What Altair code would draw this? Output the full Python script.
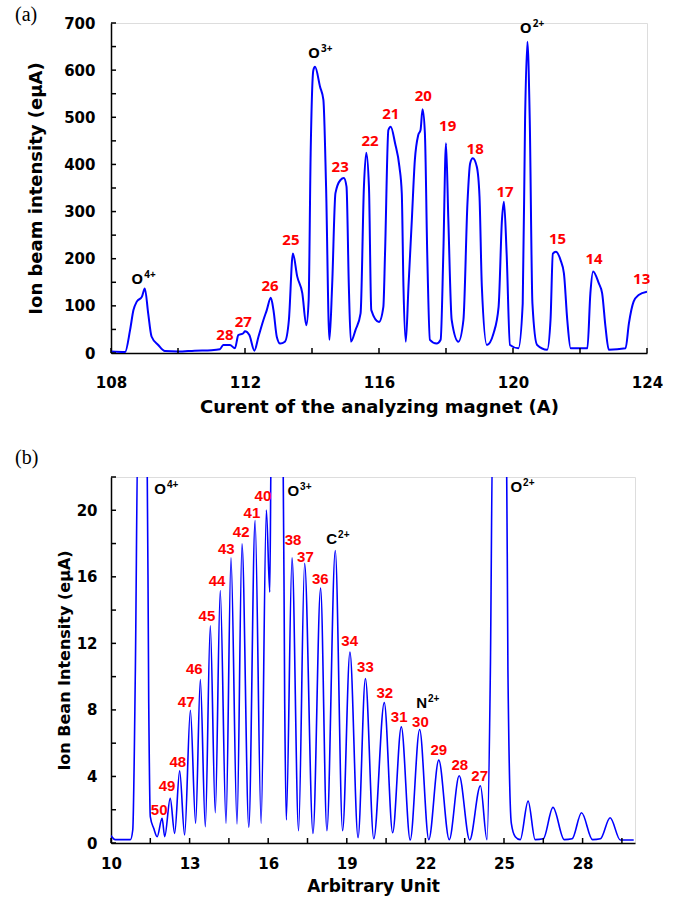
import altair as alt
import pandas as pd

# ---------------- Panel (a) data ----------------
a_x = [108.00, 108.42, 108.57, 108.67, 108.77, 108.92, 109.01, 109.11, 109.21, 109.41, 109.61,
       110.00, 110.50, 111.00, 111.25, 111.35, 111.55, 111.70, 111.80, 111.95, 112.00, 112.13,
       112.28, 112.40, 112.55, 112.65, 112.77, 112.85, 112.95, 113.05, 113.19, 113.31, 113.43,
       113.56, 113.71, 113.83, 113.90, 113.96, 114.04, 114.09, 114.24, 114.34, 114.42, 114.52,
       114.60, 114.70, 114.85, 114.95, 115.03, 115.10, 115.16, 115.30, 115.45, 115.55, 115.62,
       115.70, 115.77, 116.00, 116.13, 116.18, 116.28, 116.35, 116.48, 116.61, 116.68, 116.73,
       116.80, 116.88, 116.98, 117.07, 117.17, 117.24, 117.30, 117.37, 117.44, 117.52, 117.72,
       117.84, 117.92, 118.00, 118.07, 118.17, 118.37, 118.52, 118.64, 118.72, 118.80, 118.92,
       119.00, 119.07, 119.22, 119.42, 119.57, 119.67, 119.73, 119.81, 119.91, 120.16, 120.29,
       120.36, 120.43, 120.50, 120.58, 120.72, 121.02, 121.12, 121.19, 121.28, 121.42, 121.52,
       121.62, 121.72, 122.22, 122.31, 122.39, 122.56, 122.66, 122.76, 122.86, 123.36, 123.46,
       123.60, 123.75, 124.00]
a_y = [3, 2, 49, 91, 109, 119, 137, 84, 35, 17, 4,
       3, 5, 6, 8, 17, 17, 10, 38, 42, 46, 38,
       5, 34, 70, 91, 117, 91, 34, 20, 24, 70, 211,
       162, 127, 59, 112, 424, 600, 607, 565, 537, 353, 28,
       141, 339, 367, 371, 353, 141, 24, 49, 84, 353, 425,
       353, 91, 66, 98, 211, 473, 480, 445, 395, 339, 141,
       24, 141, 282, 409, 462, 473, 517, 466, 211, 28, 20,
       28, 211, 445, 282, 70, 24, 70, 317, 402, 413, 395,
       332, 141, 17, 42, 98, 282, 321, 211, 17, 10, 105,
       494, 660, 494, 105, 17, 7, 70, 211, 215, 197, 169,
       70, 10, 10, 127, 173, 148, 127, 56, 7, 10, 63,
       109, 123, 130]

a_lab_text = ["28", "27", "26", "25", "23", "22", "21", "20", "19", "18", "17", "15", "14", "13"]
a_lab_x = [111.40, 111.95, 112.75, 113.37, 114.84, 115.73, 116.35, 117.32, 118.05, 118.87, 119.76,
           121.33, 122.42, 123.84]
a_lab_y = [38, 65, 142, 240, 395, 450, 508, 545, 481, 432, 342, 242, 199, 156]

a_ion_main = ["O", "O", "O"]
a_ion_sup = ["4+", "3+", "2+"]
a_ion_x = [108.96, 114.24, 120.56]
a_ion_y = [158, 636, 689]

a_xlabels = [108, 112, 116, 120, 124]
a_xticks = [108, 110, 112, 114, 116, 118, 120, 122, 124]
a_ylabels = [0, 100, 200, 300, 400, 500, 600, 700]
a_yticks = [0, 50, 100, 150, 200, 250, 300, 350, 400, 450, 500, 550, 600, 650, 700]

# ---------------- Panel (b) data ----------------
b_x = [10.00, 10.16, 10.74, 10.83, 10.93, 11.03, 11.37, 11.44, 11.50, 11.63, 11.76, 11.95, 12.05,
       12.26, 12.43, 12.62, 12.81, 13.03, 13.23, 13.41, 13.60, 13.79, 13.98, 14.17, 14.39, 14.58,
       14.81, 15.00, 15.26, 15.50, 15.73, 15.93, 16.06, 16.12, 16.56, 16.63, 16.69, 16.91, 17.16,
       17.39, 17.71, 18.00, 18.24, 18.56, 18.84, 19.12, 19.43, 19.71, 20.03, 20.43, 20.75, 21.08,
       21.42, 21.78, 22.13, 22.51, 22.91, 23.29, 23.69, 24.10, 24.35, 24.48, 24.57, 25.09, 25.15,
       25.28, 25.43, 25.62, 25.92, 26.19, 26.50, 26.87, 27.30, 27.60, 27.96, 28.38, 28.68, 29.05,
       29.44, 29.95]
b_y = [0.45, 0.20, 0.20, 0.78, 10.4, 25.0, 25.0, 8.4, 1.58, 0.88, 0.38, 1.48, 0.38,
       2.68, 0.58, 4.34, 0.48, 7.98, 1.18, 9.82, 0.98, 13.06, 1.82, 15.18, 1.18, 17.14,
       1.14, 17.98, 0.94, 19.38, 1.18, 20.02, 15.08, 25.0, 25.0, 8.4, 1.38, 17.14, 0.74,
       16.82, 0.58, 15.32, 0.74, 17.58, 0.74, 11.48, 0.32, 9.88, 0.26, 8.44, 0.62, 6.98,
       0.18, 6.82, 0.20, 4.98, 0.20, 4.04, 0.18, 3.44, 0.20, 10.38, 25.0, 25.0, 10.38,
       1.18, 0.38, 0.20, 2.52, 0.20, 0.25, 2.14, 0.20, 0.25, 1.82, 0.20, 0.25, 1.52,
       0.18, 0.18]

b_lab_text = ["50", "49", "48", "47", "46", "45", "44", "43", "42", "41", "40", "38", "37", "36",
              "34", "33", "32", "31", "30", "29", "28", "27"]
b_lab_x = [11.84, 12.14, 12.55, 12.87, 13.18, 13.66, 14.05, 14.40, 14.97, 15.38, 15.80, 16.95,
           17.42, 17.99, 19.11, 19.71, 20.45, 21.00, 21.81, 22.51, 23.31, 24.07]
b_lab_y = [1.98, 3.42, 4.84, 8.48, 10.44, 13.66, 15.72, 17.68, 18.68, 19.82, 20.84, 18.22,
           17.22, 15.84, 12.14, 10.58, 9.04, 7.58, 7.28, 5.62, 4.68, 4.02]

b_ion_main = ["O", "O", "C", "N", "O"]
b_ion_sup = ["4+", "3+", "2+", "2+", "2+"]
b_ion_x = [12.10, 17.18, 18.63, 22.06, 25.69]
b_ion_y = [21.25, 21.13, 18.28, 8.44, 21.37]

b_xlabels = [10, 13, 16, 19, 22, 25, 28]
b_xticks = [10, 11.5, 13, 14.5, 16, 17.5, 19, 20.5, 22, 23.5, 25, 26.5, 28, 29.5]
b_ylabels = [0, 4, 8, 12, 16, 20]
b_yticks = [0, 2, 4, 6, 8, 10, 12, 14, 16, 18, 20, 22]

# ---------------- layout constants ----------------
A_W, A_H = 536, 330
B_W, B_H = 524, 366
BOLD_FONT = "DejaVu Sans"
TICK_LEN = 5


def make_panel(xv, yv, xdom, ydom, W, H, xlabels, xticks, ylabels, yticks,
               lab_text, lab_x, lab_y, ion_main, ion_sup, ion_x, ion_y,
               xtitle, ytitle, line_w, lab_font, lab_size, ion_size, sup_size,
               x_lpad, y_lpad, x_tpad, y_tpad, x_tsize, y_tsize, panel_title, t_off):
    xs = alt.Scale(domain=xdom, nice=False, zero=False)
    ys = alt.Scale(domain=ydom, nice=False, zero=False)
    common = dict(grid=False, ticks=False, format="d", labelFlush=False,
                  labelFont=BOLD_FONT, labelFontWeight="bold", labelFontSize=15,
                  labelColor="black", titleFont=BOLD_FONT, titleFontWeight="bold",
                  titleColor="black", domainColor="black", domainWidth=1.5)
    ax_x = alt.Axis(values=xlabels, title=xtitle, labelPadding=x_lpad,
                    titlePadding=x_tpad, titleFontSize=x_tsize, **common)
    ax_y = alt.Axis(values=ylabels, title=ytitle, labelPadding=y_lpad,
                    titlePadding=y_tpad, titleFontSize=y_tsize, **common)

    def X():
        return alt.X("x:Q", scale=xs, axis=ax_x, title=xtitle)

    def Y():
        return alt.Y("y:Q", scale=ys, axis=ax_y, title=ytitle)

    line = alt.Chart(pd.DataFrame({"x": xv, "y": yv})).mark_line(
        color="#0000ff", strokeWidth=line_w, interpolate="monotone", clip=True
    ).encode(x=X(), y=Y())

    xt = alt.Chart(pd.DataFrame({"x": xticks})).mark_rule(color="black", strokeWidth=1.5).encode(
        x=X(), y=alt.value(H), y2=alt.value(H - TICK_LEN))
    yt = alt.Chart(pd.DataFrame({"y": yticks})).mark_rule(color="black", strokeWidth=1.5).encode(
        y=Y(), x=alt.value(0), x2=alt.value(TICK_LEN))

    labs = alt.Chart(pd.DataFrame({"x": lab_x, "y": lab_y, "t": lab_text})).mark_text(
        color="#ff0000", font=lab_font, fontWeight="bold", fontSize=lab_size, baseline="middle",
        align="center").encode(x=X(), y=Y(), text="t:N")

    ion_df = pd.DataFrame({"x": ion_x, "y": ion_y, "m": ion_main, "s": ion_sup})
    ion_m = alt.Chart(ion_df).mark_text(
        color="black", font=lab_font, fontWeight="bold", fontSize=ion_size, baseline="middle",
        align="right").encode(x=X(), y=Y(), text="m:N")
    ion_s = alt.Chart(ion_df).mark_text(
        color="black", font=lab_font, fontWeight="bold", fontSize=sup_size, baseline="middle",
        align="left", dx=1, dy=-4).encode(x=X(), y=Y(), text="s:N")

    return alt.layer(line, xt, yt, labs, ion_m, ion_s).properties(
        width=W, height=H,
        title=alt.TitleParams(panel_title, anchor="start", frame="group", dx=-96,
                              font="Liberation Serif", fontSize=20, fontWeight="normal",
                              color="black", offset=t_off))


panel_a = make_panel(a_x, a_y, [108, 124], [0, 700], A_W, A_H, a_xlabels, a_xticks,
                     a_ylabels, a_yticks, a_lab_text, a_lab_x, a_lab_y,
                     a_ion_main, a_ion_sup, a_ion_x, a_ion_y,
                     "Curent of the analyzing magnet (A)", "Ion beam intensity (eμA)",
                     2.0, "Open Sans", 15, 15, 10, 22, 16, 8, 18, 18, 18, "(a)", -9)

panel_b = make_panel(b_x, b_y, [10, 30], [0, 22], B_W, B_H, b_xlabels, b_xticks,
                     b_ylabels, b_yticks, b_lab_text, b_lab_x, b_lab_y,
                     b_ion_main, b_ion_sup, b_ion_x, b_ion_y,
                     "Arbitrary Unit", "Ion Bean Intensity (eμA)",
                     1.6, "Liberation Sans", 15, 15, 10, 13, 14, 7, 4, 17, 16, "(b)", 8)

chart = alt.vconcat(panel_a, panel_b, spacing=30).properties(
    padding={"left": 14, "top": 4, "right": 5, "bottom": 5}
).configure_view(strokeWidth=0).configure(background="white")

chart.save("out.html", embed_options={"renderer": "svg", "actions": False})
